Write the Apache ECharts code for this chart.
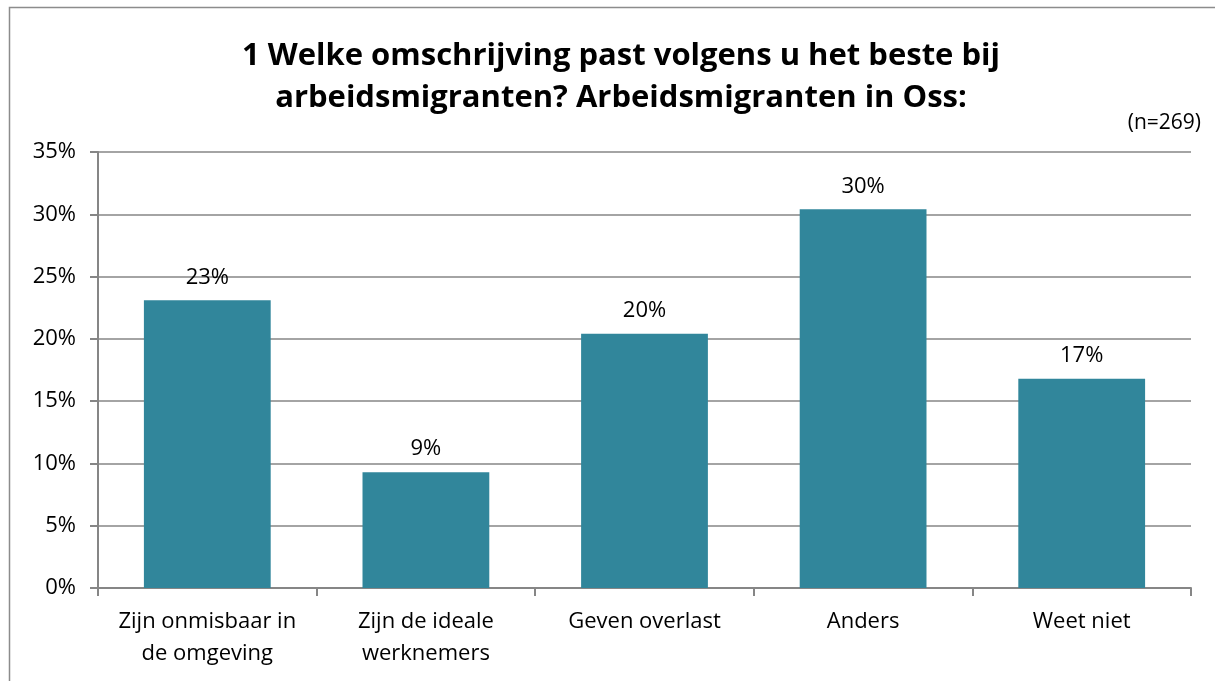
<!DOCTYPE html>
<html>
<head>
<meta charset="utf-8">
<script src="https://cdn.jsdelivr.net/npm/echarts@6/dist/echarts.min.js"></script>
<style>
html, body { margin: 0; padding: 0; background: #fff; }
#chart { width: 1215px; height: 681px; }
</style>
</head>
<body>
<div id="chart"></div>
<script>
var categories = ['Zijn onmisbaar in\nde omgeving', 'Zijn de ideale\nwerknemers', 'Geven overlast', 'Anders', 'Weet niet'];
var values = [23.1, 9.3, 20.4, 30.4, 16.8];
var yTicks = [0, 5, 10, 15, 20, 25, 30, 35];

var font = '"Open Sans", "Liberation Sans", sans-serif';
var chart = echarts.init(document.getElementById('chart'));
var option = {
	animation: false,
	textStyle: { fontFamily: font },
	title: {
		text: '1 Welke omschrijving past volgens u het beste bij\narbeidsmigranten? Arbeidsmigranten in Oss:',
		left: 616,
		textAlign: 'center',
		top: 30,
		textStyle: {
			fontFamily: font,
			fontSize: 31,
			fontWeight: 'bold',
			color: '#000',
			lineHeight: 42
		}
	},
	graphic: [{
		type: 'rect',
		shape: { x: 9.5, y: 7.5, width: 1220, height: 690 },
		style: { fill: 'none', stroke: '#8c8c8c', lineWidth: 1.5 },
		silent: true
	}, {
		type: 'text',
		right: 14,
		top: 113,
		style: { text: '(n=269)', fontFamily: font, fontSize: 21, fill: '#000' }
	}],
	grid: { left: 98, right: 24, top: 152, bottom: 93 },
	xAxis: {
		type: 'category',
		data: categories,
		axisLine: { lineStyle: { color: '#868686', width: 2 } },
		axisTick: { show: true, length: 8, lineStyle: { color: '#868686', width: 2 } },
		axisLabel: { fontSize: 22, color: '#000', margin: 18, lineHeight: 32, interval: 0 }
	},
	yAxis: {
		type: 'value',
		min: 0,
		max: 35,
		interval: 5,
		axisLine: { show: true, lineStyle: { color: '#868686', width: 2 } },
		axisTick: { show: true, length: 8, lineStyle: { color: '#868686', width: 2 } },
		splitLine: { lineStyle: { color: '#868686', width: 1.5 } },
		axisLabel: {
			fontSize: 22,
			color: '#000',
			margin: 22,
			formatter: function(v) { return yTicks.indexOf(v) >= 0 ? v + '%' : ''; }
		}
	},
	series: [{
		type: 'bar',
		data: values,
		barCategoryGap: '42%',
		itemStyle: { color: '#31869b' },
		label: {
			show: true,
			position: 'top',
			distance: 12,
			fontSize: 22,
			color: '#000',
			formatter: function(p) { return Math.round(p.value) + '%'; }
		}
	}]
};
chart.setOption(option);
</script>
</body>
</html>
